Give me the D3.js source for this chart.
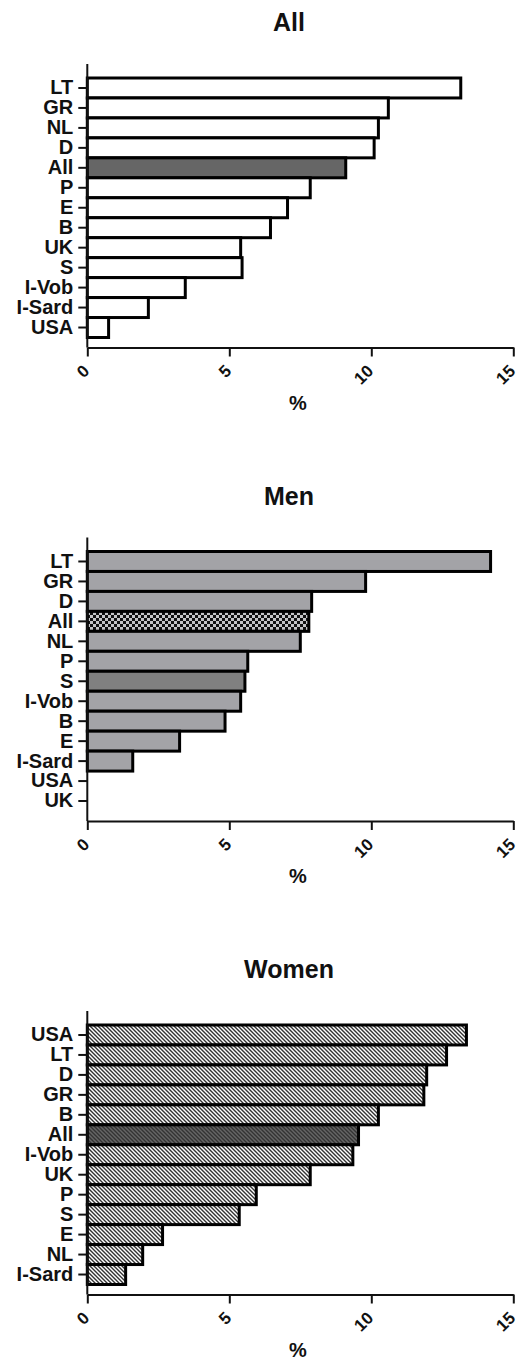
<!DOCTYPE html>
<meta charset="utf-8">
<html>
<head>
    <style>
        body { margin: 0; background: #fff; }
        text { font-family: "Liberation Sans", Arial, sans-serif; font-weight: bold; fill: #111; }
        .axis path, .axis line { stroke: #111; stroke-width: 2px; }
        .bar { stroke: #000; stroke-width: 3px; }
    </style>
    <script src="https://d3js.org/d3.v7.min.js"></script>
</head>
<body>
<svg id="svg" width="518" height="1359"></svg>
<script>

    // values, in %
    var allCats = ["LT", "GR", "NL", "D", "All", "P", "E", "B", "UK", "S", "I-Vob", "I-Sard", "USA"];
    var allVals = [13.15, 10.6, 10.25, 10.1, 9.1, 7.85, 7.05, 6.45, 5.4, 5.45, 3.45, 2.15, 0.75];

    var menCats = ["LT", "GR", "D", "All", "NL", "P", "S", "I-Vob", "B", "E", "I-Sard", "USA", "UK"];
    var menVals = [14.2, 9.8, 7.9, 7.8, 7.5, 5.65, 5.55, 5.4, 4.85, 3.25, 1.6, 0, 0];

    var womenCats = ["USA", "LT", "D", "GR", "B", "All", "I-Vob", "UK", "P", "S", "E", "NL", "I-Sard"];
    var womenVals = [13.35, 12.65, 11.95, 11.85, 10.25, 9.55, 9.35, 7.85, 5.95, 5.35, 2.65, 1.95, 1.35];

    var xTicks = [0, 5, 10, 15];

    var svg = d3.select("svg");
    var defs = svg.append("defs");

    // checkered fill for the "All" bar of the men panel
    var chk = defs.append("pattern").attr("id", "checker")
        .attr("patternUnits", "userSpaceOnUse").attr("width", 6).attr("height", 6);
    chk.append("rect").attr("width", 6).attr("height", 6).attr("fill", "#c4c4c6");
    chk.append("rect").attr("width", 3).attr("height", 3).attr("fill", "#111");
    chk.append("rect").attr("x", 3).attr("y", 3).attr("width", 3).attr("height", 3).attr("fill", "#111");

    // diagonal hatch for the women panel
    function hatch(id, bg, fg) {
        var p = defs.append("pattern").attr("id", id)
            .attr("patternUnits", "userSpaceOnUse").attr("width", 4).attr("height", 4);
        p.append("rect").attr("width", 4).attr("height", 4).attr("fill", bg);
        p.append("path").attr("d", "M-1,-1L5,5M-1,3L1,5M3,-1L5,1")
            .attr("stroke", fg).attr("stroke-width", 1.4);
    }
    hatch("hatch", "#fff", "#333");
    hatch("hatchDark", "#666", "#333");

    var x = d3.scaleLinear().domain([0, 15]).range([87.3, 513.3]);

    var panels = [
        {title: "All", top: 64, cats: allCats, vals: allVals,
            fill: function (c) { return c === "All" ? "#666" : "#fff"; }},
        {title: "Men", top: 537.5, cats: menCats, vals: menVals,
            fill: function (c) { return c === "All" ? "url(#checker)" : c === "S" ? "#808080" : "#a3a3a7"; }},
        {title: "Women", top: 1011, cats: womenCats, vals: womenVals,
            fill: function (c) { return c === "All" ? "url(#hatchDark)" : "url(#hatch)"; }}
    ];

    panels.forEach(function (p) {
        var T = p.top, bottom = T + 283.5;
        var g = svg.append("g");

        var y = d3.scaleBand().domain(p.cats).range([T + 14, T + 273.5]).padding(0);

        g.append("text")
            .attr("x", 289).attr("y", T - 33)
            .attr("text-anchor", "middle")
            .style("font-size", "25px")
            .text(p.title);

        g.selectAll(".bar")
            .data(p.cats)
            .enter().append("rect")
            .attr("class", "bar")
            .attr("x", x(0))
            .attr("y", function (d) { return y(d); })
            .attr("width", function (d, i) { return x(p.vals[i]) - x(0); })
            .attr("height", y.bandwidth())
            .attr("fill", function (d) { return p.fill(d); });

        var yAxis = g.append("g").attr("class", "axis")
            .attr("transform", "translate(" + x(0) + ",0)")
            .call(d3.axisLeft(y).tickSize(9).tickPadding(5));
        yAxis.select(".domain").remove();
        yAxis.append("line").attr("x1", 0).attr("x2", 0).attr("y1", T).attr("y2", bottom);
        yAxis.selectAll("text").style("font-size", "20px").attr("fill", "#111");

        var xAxis = g.append("g").attr("class", "axis")
            .attr("transform", "translate(0," + bottom + ")")
            .call(d3.axisBottom(x).tickValues(xTicks).tickSize(9).tickSizeOuter(0));
        xAxis.selectAll("text")
            .style("font-size", "17px")
            .attr("fill", "#111")
            .attr("text-anchor", "end")
            .attr("x", 0).attr("y", 0).attr("dy", "0.3em")
            .attr("transform", "translate(-1,21) rotate(-45)");

        g.append("text")
            .attr("x", 298).attr("y", bottom + 62)
            .attr("text-anchor", "middle")
            .style("font-size", "20px")
            .text("%");
    });

</script>
</body>
</html>
